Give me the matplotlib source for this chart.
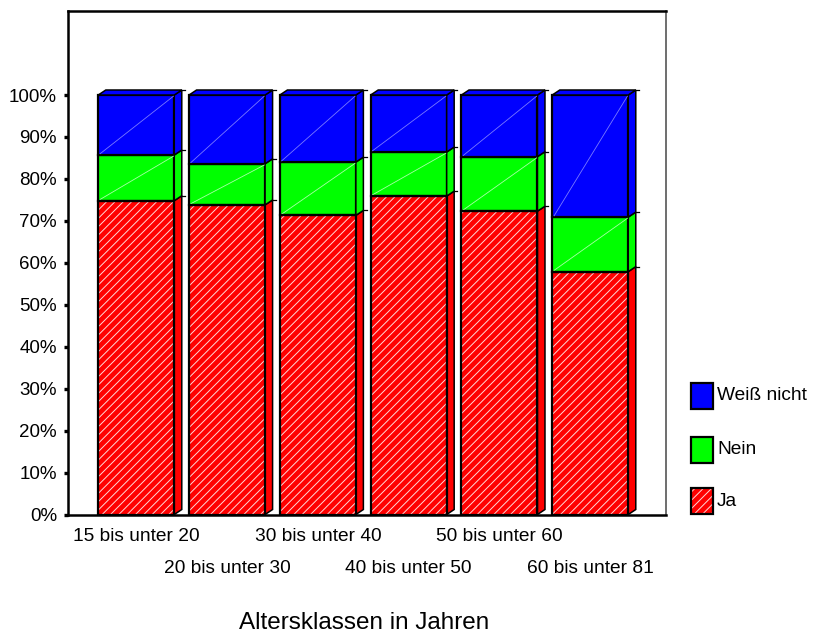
import numpy as np
import matplotlib.pyplot as plt
from matplotlib.patches import Polygon, Rectangle

plt.rcParams['font.family'] = ['Liberation Sans', 'DejaVu Sans']
plt.rcParams['hatch.linewidth'] = 0.7

##############################
kategorien = ["15 bis unter 20", "20 bis unter 30", "30 bis unter 40",
              "40 bis unter 50", "50 bis unter 60", "60 bis unter 81"]
ja = [74.8, 73.8, 71.3, 75.9, 72.3, 57.9]
nein = [10.9, 9.8, 12.7, 10.5, 13.0, 13.0]
weiss_nicht = [14.3, 16.4, 16.0, 13.6, 14.7, 29.1]
prozent_ticks = [0, 10, 20, 30, 40, 50, 60, 70, 80, 90, 100]

farben = {'Ja': '#ff0000', 'Nein': '#00ff00', 'Weiß nicht': '#0000ff'}
diagonale = {'Nein': '#a8ffa8', 'Weiß nicht': '#7a7aff'}
schraffur = '#ffd6d6'
##############################

W, H = 813, 635
fig = plt.figure(figsize=(W / 100, H / 100), dpi=100)
ax = fig.add_axes([68 / W, 1 - 514.5 / H, 598 / W, 503.5 / H])

x = np.arange(len(kategorien))
breite = 0.837
tiefe_x = 0.0826   # 3D-Tiefe nach rechts
tiefe_y = 1.19     # 3D-Tiefe nach oben

segmente = [('Ja', ja), ('Nein', nein), ('Weiß nicht', weiss_nicht)]
unten = np.zeros(len(x))
for name, werte in segmente:
    werte = np.array(werte)
    if name == 'Ja':
        ax.bar(x, werte, breite, bottom=unten, color=farben[name], edgecolor=schraffur,
               hatch='////', linewidth=0, zorder=2)
        ax.bar(x, werte, breite, bottom=unten, fill=False, edgecolor='black',
               linewidth=1.6, zorder=3)
    else:
        ax.bar(x, werte, breite, bottom=unten, color=farben[name], edgecolor='black',
               linewidth=1.6, zorder=2)
        for xi, u, w in zip(x, unten, werte):
            ax.plot([xi - breite / 2 + 0.02, xi + breite / 2 - 0.01], [u + 0.3, u + w - 0.3],
                    color=diagonale[name], lw=0.6, zorder=2.5)
    # Seitenflaechen
    for xi, u, w in zip(x, unten, werte):
        r = xi + breite / 2
        seite = Polygon([(r, u), (r + tiefe_x, u + tiefe_y), (r + tiefe_x, u + w + tiefe_y), (r, u + w)],
                        closed=True, facecolor=farben[name], edgecolor='black', lw=1.1, zorder=2.2)
        ax.add_patch(seite)
        ax.plot([r + tiefe_x, r + tiefe_x + 0.035], [u + w + tiefe_y] * 2, color='black', lw=0.9, zorder=2.2)
    unten = unten + werte

# Deckflaechen
for xi, h in zip(x, unten):
    l, r = xi - breite / 2, xi + breite / 2
    deckel = Polygon([(l, h), (l + tiefe_x, h + tiefe_y), (r + tiefe_x, h + tiefe_y), (r, h)],
                     closed=True, facecolor=farben['Weiß nicht'], edgecolor='black', lw=1.1, zorder=2.2)
    ax.add_patch(deckel)

ax.set_xlim(-0.752, -0.752 + 598 / 90.8)
ax.set_ylim(0, 503.5 / 4.195)
ax.set_xticks([])
ax.set_yticks(prozent_ticks)
ax.set_yticklabels([f"{p}%" for p in prozent_ticks])
ax.tick_params(axis='y', length=3, width=2.4, pad=5, labelsize=13.5, colors='black')

for s in ['left', 'bottom', 'top']:
    ax.spines[s].set_linewidth(1.8)
    ax.spines[s].set_color('black')
ax.spines['right'].set_linewidth(1.2)
ax.spines['right'].set_color('#555555')

# Kategorien versetzt in zwei Zeilen
for i, k in enumerate(kategorien):
    y = -0.0526 if i % 2 == 0 else -0.1162
    ax.text(x[i], y, k, transform=ax.get_xaxis_transform(), ha='center', va='baseline', fontsize=13.8)

fig.text(364.5 / W, 6 / H, "Altersklassen in Jahren", ha='center', va='baseline', fontsize=17.5)

# Legende
eintraege = [('Weiß nicht', 383), ('Nein', 437), ('Ja', 488)]
for name, y0 in eintraege:
    pos = (691 / W, 1 - (y0 + 26) / H)
    bw, bh = 22 / W, 26 / H
    if name == 'Ja':
        fig.add_artist(Rectangle(pos, bw, bh, transform=fig.transFigure, facecolor=farben[name],
                                 edgecolor=schraffur, hatch='////', linewidth=0))
        fig.add_artist(Rectangle(pos, bw, bh, transform=fig.transFigure, fill=False,
                                 edgecolor='black', linewidth=1.6))
    else:
        fig.add_artist(Rectangle(pos, bw, bh, transform=fig.transFigure, facecolor=farben[name],
                                 edgecolor='black', linewidth=1.6))
    fig.text(717 / W, 1 - (y0 + 13) / H, name, ha='left', va='center', fontsize=13.8)

fig.savefig("out.png", dpi=100)
plt.close('all')
